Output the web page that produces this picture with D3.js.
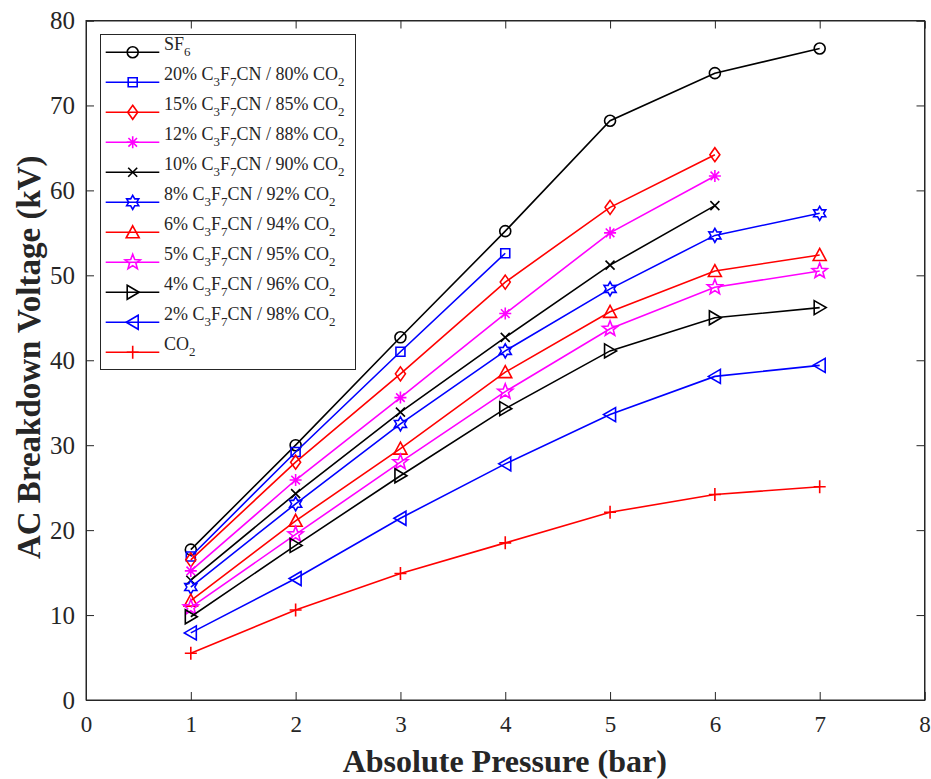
<!DOCTYPE html>
<html>
<head>
<meta charset="utf-8">
<script src="https://cdn.jsdelivr.net/npm/d3@7"></script>
<style>
  body { margin: 0; background: #fff; }
  svg text { font-family: "Liberation Serif", "Times New Roman", serif; fill: #262626; }
</style>
</head>
<body>
<div id="container"></div>
<script>
// pressure values (bar)
const pressure = [1, 2, 3, 4, 5, 6, 7];

// legend labels, "_x" marks a subscript
const seriesNames = [
  "SF_6",
  "20% C_3F_7CN / 80% CO_2",
  "15% C_3F_7CN / 85% CO_2",
  "12% C_3F_7CN / 88% CO_2",
  "10% C_3F_7CN / 90% CO_2",
  "8% C_3F_7CN / 92% CO_2",
  "6% C_3F_7CN / 94% CO_2",
  "5% C_3F_7CN / 95% CO_2",
  "4% C_3F_7CN / 96% CO_2",
  "2% C_3F_7CN / 98% CO_2",
  "CO_2"
];

// breakdown voltage (kV) per series
const sf6 = [17.7, 30.0, 42.7, 55.2, 68.2, 73.8, 76.7];
const mix20 = [16.9, 29.2, 41.0, 52.6];
const mix15 = [16.5, 28.0, 38.4, 49.2, 58.0, 64.2];
const mix12 = [15.2, 25.9, 35.6, 45.5, 55.0, 61.7];
const mix10 = [14.1, 24.3, 33.9, 42.7, 51.2, 58.2];
const mix8 = [13.3, 23.1, 32.5, 41.1, 48.4, 54.7, 57.3];
const mix6 = [11.7, 21.1, 29.6, 38.6, 45.7, 50.5, 52.4];
const mix5 = [10.9, 19.5, 28.0, 36.3, 43.7, 48.6, 50.5];
const mix4 = [9.8, 18.2, 26.4, 34.3, 41.1, 45.0, 46.2];
const mix2 = [7.9, 14.3, 21.4, 27.8, 33.6, 38.1, 39.4];
const co2 = [5.5, 10.6, 14.9, 18.5, 22.1, 24.2, 25.1];

const seriesValues = [sf6, mix20, mix15, mix12, mix10, mix8, mix6, mix5, mix4, mix2, co2];
const seriesColors = ["#000000", "#0000ff", "#ff0000", "#ff00ff", "#000000", "#0000ff",
                      "#ff0000", "#ff00ff", "#000000", "#0000ff", "#ff0000"];
const seriesMarkers = ["o", "s", "d", "*", "x", "h", "^", "p", ">", "<", "+"];

const xTicks = [0, 1, 2, 3, 4, 5, 6, 7, 8];
const yTicks = [0, 10, 20, 30, 40, 50, 60, 70, 80];

// star outline helper
function star(points, rOut, rIn, rot) {
  const pts = [];
  for (let i = 0; i < points * 2; i++) {
    const r = i % 2 === 0 ? rOut : rIn;
    const a = rot + i * Math.PI / points;
    pts.push([r * Math.cos(a), r * Math.sin(a)]);
  }
  return "M" + pts.map(p => p[0].toFixed(2) + "," + p[1].toFixed(2)).join("L") + "Z";
}

function markerPath(type) {
  switch (type) {
    case "o": return "M5.5,0A5.5,5.5 0 1,1 -5.5,0A5.5,5.5 0 1,1 5.5,0Z";
    case "s": return "M-4.5,-4.5H4.5V4.5H-4.5Z";
    case "d": return "M0,-7L5,0L0,7L-5,0Z";
    case "*": return "M-6,0H6M0,-6V6M-4.3,-4.3L4.3,4.3M-4.3,4.3L4.3,-4.3";
    case "x": return "M-4.5,-4.5L4.5,4.5M-4.5,4.5L4.5,-4.5";
    case "h": return star(6, 7, 4, -Math.PI / 2);
    case "^": return "M0,-6.5L6.5,5.5L-6.5,5.5Z";
    case "p": return star(5, 8, 3.4, -Math.PI / 2);
    case ">": return "M-5.5,-7L6.5,0L-5.5,7Z";
    case "<": return "M5.5,-7L-6.5,0L5.5,7Z";
    case "+": return "M-6,0H6M0,-6.5V6.5";
  }
}

// write label text with subscripts
function addLabel(sel, label, fontSize) {
  const parts = label.split(/(_\d)/).filter(s => s.length);
  parts.forEach(p => {
    if (p[0] === "_") {
      sel.append("tspan").attr("font-size", fontSize * 0.72).attr("dy", 6.5).text(p.slice(1));
    } else {
      sel.append("tspan").attr("dy", sel.selectAll("tspan").size() ? -6.5 : 0).text(p);
    }
  });
}

const W = 931, H = 779;
const margin = { top: 20.5, right: 6.5, bottom: 79, left: 86 };
const width = W - margin.left - margin.right;
const height = H - margin.top - margin.bottom;

const svg = d3.select("#container").append("svg")
  .attr("width", W)
  .attr("height", H);

const x = d3.scaleLinear().domain([0, 8]).range([margin.left, margin.left + width]);
const y = d3.scaleLinear().domain([0, 80]).range([margin.top + height, margin.top]);

const axisColor = "#262626";

// box
svg.append("rect")
  .attr("x", x(0)).attr("y", y(80))
  .attr("width", x(8) - x(0)).attr("height", y(0) - y(80))
  .attr("fill", "none").attr("stroke", axisColor).attr("stroke-width", 1);

// axes with inward ticks
const gx = svg.append("g").attr("transform", `translate(0,${y(0)})`)
  .call(d3.axisBottom(x).tickValues(xTicks).tickSize(-8).tickPadding(16).tickFormat(d3.format("d")));
const gxTop = svg.append("g").attr("transform", `translate(0,${y(80)})`)
  .call(d3.axisTop(x).tickValues(xTicks).tickSize(-8).tickFormat(""));
const gy = svg.append("g").attr("transform", `translate(${x(0)},0)`)
  .call(d3.axisLeft(y).tickValues(yTicks).tickSize(-8).tickPadding(11).tickFormat(d3.format("d")));
const gyRight = svg.append("g").attr("transform", `translate(${x(8)},0)`)
  .call(d3.axisRight(y).tickValues(yTicks).tickSize(-8).tickFormat(""));

[gx, gxTop, gy, gyRight].forEach(g => {
  g.select(".domain").attr("stroke", axisColor);
  g.selectAll(".tick line").attr("stroke", axisColor);
  g.selectAll(".tick text")
    .attr("font-family", "Liberation Serif, Times New Roman, serif")
    .attr("font-size", g === gx ? 23 : 25)
    .attr("fill", axisColor);
});

// axis titles
svg.append("text")
  .attr("x", x(4) - 0.5).attr("y", 772)
  .attr("text-anchor", "middle")
  .attr("font-size", 32).attr("font-weight", "bold")
  .text("Absolute Pressure (bar)");

svg.append("text")
  .attr("transform", `translate(40,${y(40) - 3}) rotate(-90)`)
  .attr("text-anchor", "middle")
  .attr("font-size", 33).attr("font-weight", "bold")
  .text("AC Breakdown Voltage (kV)");

// lines and markers
const line = d3.line().x((d, i) => x(pressure[i])).y(d => y(d));

seriesValues.forEach((vals, k) => {
  const g = svg.append("g");
  g.append("path")
    .attr("d", line(vals))
    .attr("fill", "none")
    .attr("stroke", seriesColors[k])
    .attr("stroke-width", 1.6);
  g.selectAll("path.mk")
    .data(vals)
    .enter().append("path")
    .attr("class", "mk")
    .attr("transform", (d, i) => `translate(${x(pressure[i])},${y(d)})`)
    .attr("d", markerPath(seriesMarkers[k]))
    .attr("fill", "none")
    .attr("stroke", seriesColors[k])
    .attr("stroke-width", 1.6);
});

// legend
const legend = svg.append("g");
legend.append("rect")
  .attr("x", 100.5).attr("y", 34.5)
  .attr("width", 255).attr("height", 335)
  .attr("fill", "#fff").attr("stroke", axisColor).attr("stroke-width", 1);

seriesNames.forEach((name, k) => {
  const ry = 52.3 + 30 * k;
  legend.append("line")
    .attr("x1", 105.7).attr("x2", 159.3)
    .attr("y1", ry).attr("y2", ry)
    .attr("stroke", seriesColors[k]).attr("stroke-width", 1.6);
  legend.append("path")
    .attr("transform", `translate(132.7,${ry})`)
    .attr("d", markerPath(seriesMarkers[k]))
    .attr("fill", "none")
    .attr("stroke", seriesColors[k])
    .attr("stroke-width", 1.6);
  const t = legend.append("text")
    .attr("x", 164).attr("y", ry + 3.8)
    .attr("font-size", 18);
  addLabel(t, name, 18);
});
</script>
</body>
</html>
